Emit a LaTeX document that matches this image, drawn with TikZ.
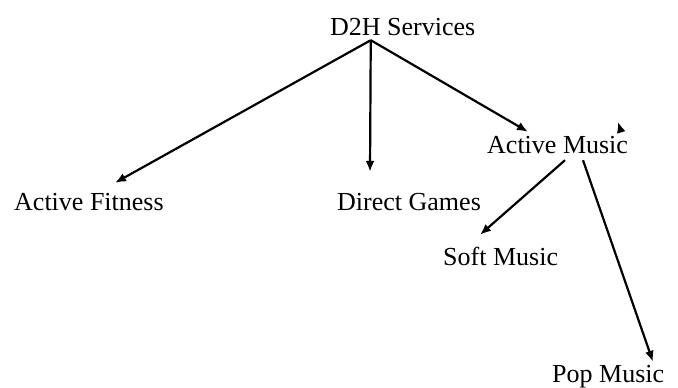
\documentclass[tikz,border=0pt]{standalone}
\usepackage{fontspec}
\setmainfont{Liberation Serif}
\usetikzlibrary{arrows.meta, positioning}
\tikzstyle{item} = [inner sep=0pt, anchor=base west, text height=18pt, text depth=0pt,
    font=\fontsize{26}{31}\selectfont]
\tikzstyle{line} = [draw, -{Latex[length=11pt,width=9pt]}, line width=2.2pt]

\begin{document}
\begin{tikzpicture}[x=1pt, y=-1pt]
  \useasboundingbox (0,0) rectangle (678,388);
  % Place nodes
  \node[item] (d2h)     at (330,35)  {D2H Services};
  \node[item] (fitness) at (14,210)  {Active Fitness};
  \node[item] (games)   at (337,210) {Direct Games};
  \node[item] (music)   at (487,153) {Active Music};
  \node[item] (soft)    at (443,265) {Soft Music};
  \node[item] (pop)     at (552,382) {Pop Music};
  \coordinate (hub) at ([xshift=-32pt,yshift=-5pt]d2h.south);

  % Draw edges
  \path [line] (hub) -- ([xshift=101pt,yshift=9pt]fitness.north west);
  \path [line] (hub) -- ([xshift=33pt,yshift=20pt]games.north west);
  \path [line] (hub) -- ([xshift=41pt,yshift=3pt]music.north west);

  \path [line] ([xshift=78pt,yshift=-7pt]music.south west) -- ([xshift=37pt,yshift=12pt]soft.north west);
  \path [line] ([xshift=96pt,yshift=-7pt]music.south west) -- ([xshift=101pt,yshift=2pt]pop.north west);

  % stray tip
  \path [line] ([xshift=134pt,yshift=3pt]music.north west) -- ([xshift=131pt,yshift=13pt]music.north west);
\end{tikzpicture}
\end{document}
